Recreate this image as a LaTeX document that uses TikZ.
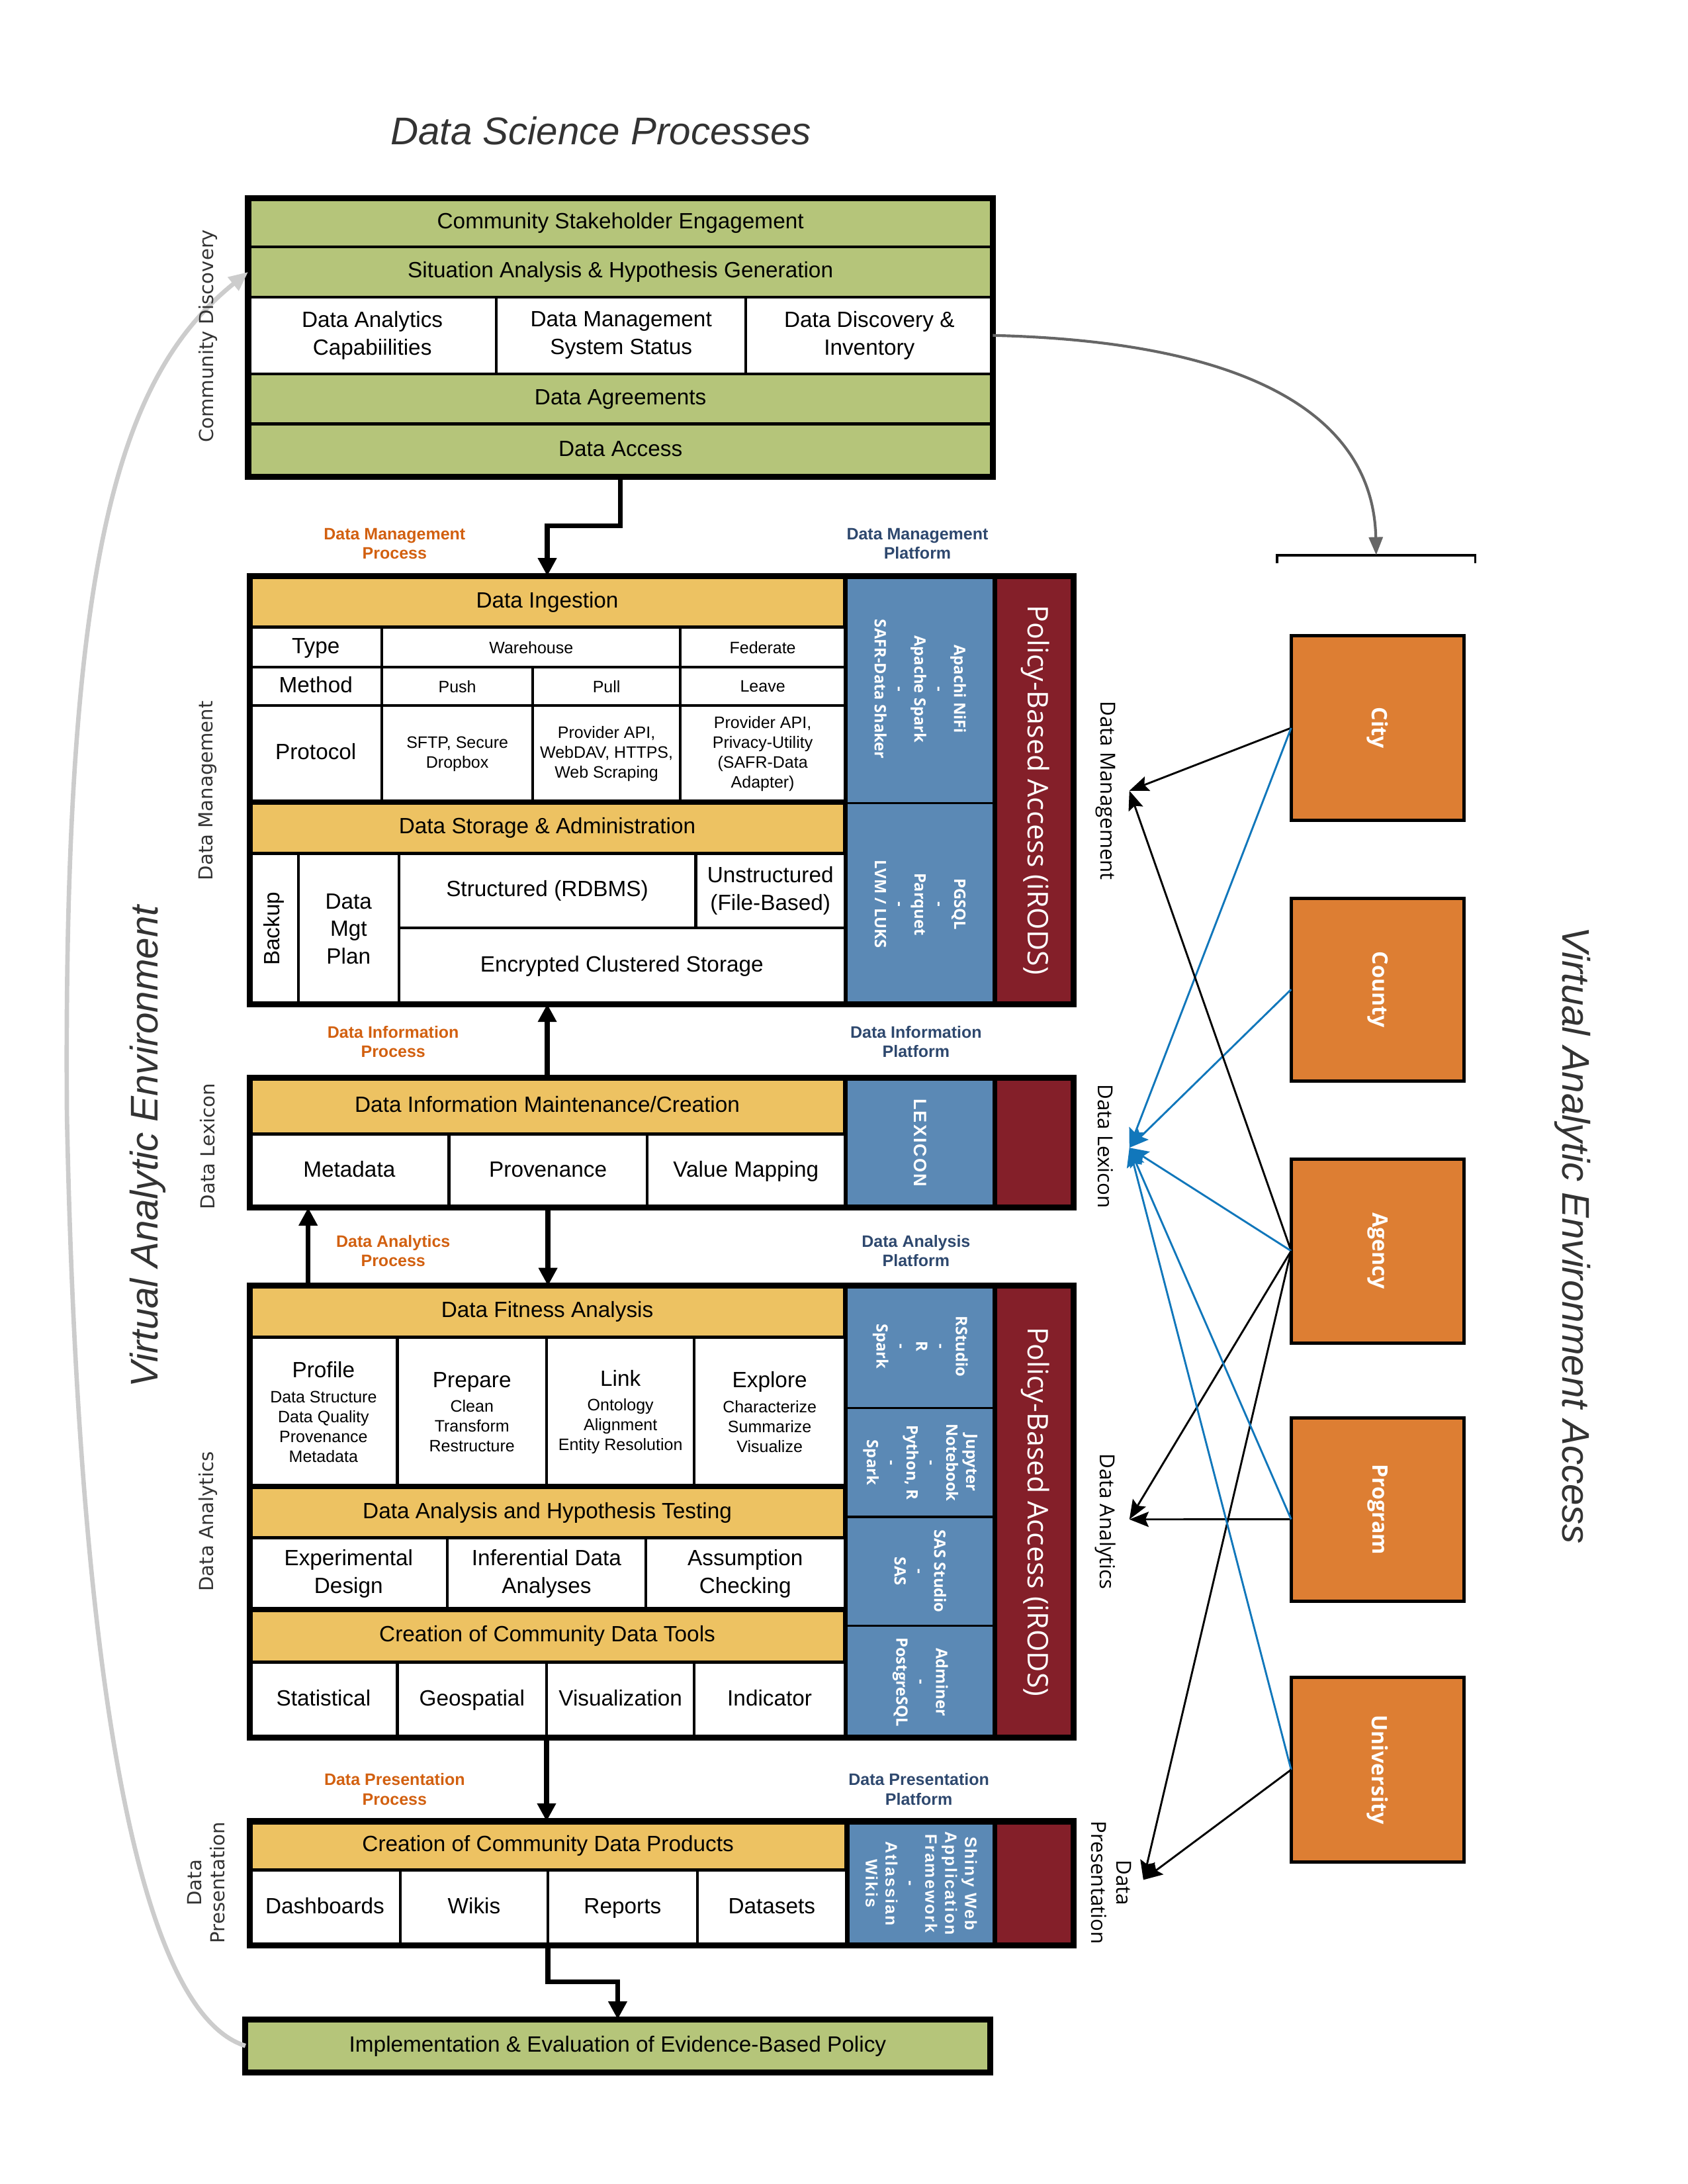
\documentclass[tikz,border=0pt]{standalone}
\usepackage{fontspec}
\setmainfont{Liberation Sans}
\newfontfamily\opensans{Open Sans}
\newfontfamily\dejavu{DejaVu Sans}
\newfontfamily\spacedsans[LetterSpace=8]{Liberation Sans}
\usetikzlibrary{arrows.meta, calc, positioning}
\definecolor{discgreen}{RGB}{181,197,122}
\definecolor{hdryellow}{RGB}{237,194,98}
\definecolor{platblue}{RGB}{91,137,181}
\definecolor{irodsred}{RGB}{132,31,41}
\definecolor{actororange}{RGB}{221,126,51}
\definecolor{procorange}{RGB}{210,96,16}
\definecolor{platnavy}{RGB}{46,72,110}
\definecolor{feedblue}{RGB}{17,119,187}
\definecolor{loopgray}{RGB}{204,204,204}
\definecolor{scangray}{RGB}{102,102,102}
\definecolor{labelgray}{RGB}{51,51,51}

\tikzset{
  spans/.style n args={4}{at={({(#1+#3)/2},{(#2+#4)/2})},
    minimum width={(#3-#1)*0.5057pt}, minimum height={(#4-#2)*0.5057pt}},
  box/.style={inner sep=0pt, outer sep=0pt},
  cell/.style={box, draw, line width=1pt, fill=white, align=center, font=\fontsize{8}{10}\selectfont},
  oneline/.style={text height=6pt, text depth=1.7pt},
  minor/.style={font=\fontsize{6}{7.2}\selectfont},
  discrow/.style={cell, oneline, fill=discgreen},
  hdr/.style={cell, oneline, fill=hdryellow, line width=1.4pt},
  plat/.style={box, fill=platblue},
  irods/.style={box, fill=irodsred},
  tool/.style={rotate=-90, text=white, align=center, font=\opensans\bfseries\fontsize{5.7}{7.2}\selectfont},
  irodslbl/.style={rotate=-90, text=white, font=\opensans\fontsize{10.3}{12}\selectfont},
  blockframe/.style={line width=2.2pt},
  sect/.style={line width=1.9pt},
  flow/.style={-{Triangle[length=6.5pt,width=6.5pt]}, line width=1.8pt},
  link/.style={-{Stealth[length=7pt,width=5.5pt,inset=1.2pt]}, line width=0.7pt},
  feed/.style={link, draw=feedblue, -{Stealth[length=7pt,width=5.5pt,inset=1.2pt,fill=feedblue]}},
  actor/.style={box, draw, line width=1.2pt, fill=actororange},
  actorlbl/.style={rotate=-90, text=white, font=\opensans\bfseries\fontsize{7.7}{9}\selectfont},
  proc/.style={font=\bfseries\fontsize{6}{7}\selectfont, text=procorange, align=center},
  platlbl/.style={proc, text=platnavy},
  lside/.style={rotate=90, align=center, text=labelgray, font=\dejavu\fontsize{7}{8.5}\selectfont},
  rside/.style={rotate=-90, align=center, font=\opensans\fontsize{7.5}{9}\selectfont},
  bigital/.style={text=labelgray, font=\itshape\fontsize{14}{17}\selectfont}
}

\begin{document}
\begin{tikzpicture}[x=0.5057pt, y=-0.5057pt]
  \useasboundingbox (0,0) rectangle (1210.2,1566.1);

  % Title
  \node[bigital] (title) at (431,94) {Data Science Processes};

  % Community discovery
  \node[discrow, spans={178}{142}{712}{177}] (cse) {Community Stakeholder Engagement};
  \node[discrow, spans={178}{177}{712}{213}] (sit) {Situation Analysis \& Hypothesis Generation};
  \node[cell, spans={178}{213}{356}{268}] (dac) {Data Analytics\\Capabiilities};
  \node[cell, spans={356}{213}{535}{268}] (dms) {Data Management\\System Status};
  \node[cell, spans={535}{213}{712}{268}] (ddi) {Data Discovery \&\\Inventory};
  \node[discrow, spans={178}{268}{712}{304}] (agree) {Data Agreements};
  \node[discrow, spans={178}{304}{712}{342}] (access) {Data Access};
  \draw[blockframe] (cse.north west) rectangle (access.south east);

  % Data management
  \fill (179,413) rectangle (770,720);
  \node[hdr, spans={179}{413}{606}{450}] (ingest) {Data Ingestion};
  \node[cell, oneline, spans={179}{450}{274}{478.5}] (typel) {Type};
  \node[cell, minor, spans={274}{450}{488}{478.5}] (wareh) {Warehouse};
  \node[cell, minor, spans={488}{450}{606}{478.5}] (fed) {Federate};
  \node[cell, oneline, spans={179}{478.5}{274}{506}] (methl) {Method};
  \node[cell, minor, spans={274}{478.5}{382}{506}] (push) {Push};
  \node[cell, minor, spans={382}{478.5}{488}{506}] (pull) {Pull};
  \node[cell, minor, spans={488}{478.5}{606}{506}] (leave) {Leave};
  \node[cell, oneline, spans={179}{506}{274}{575}] (protl) {Protocol};
  \node[cell, minor, spans={274}{506}{382}{575}] (sftp) {SFTP, Secure\\Dropbox};
  \node[cell, minor, spans={382}{506}{488}{575}] (papi) {Provider API,\\WebDAV, HTTPS,\\Web Scraping};
  \node[cell, minor, spans={488}{506}{606}{575}] (psafr) {Provider API,\\Privacy-Utility\\(SAFR-Data\\Adapter)};
  \node[hdr, spans={179}{575}{606}{612}] (stor) {Data Storage \& Administration};
  \node[cell, spans={179}{612}{214}{720}, label={[rotate=90, font=\fontsize{8}{10}\selectfont]center:Backup}] (backup) {};
  \node[cell, spans={214}{612}{286}{720}] (dmp) {Data\\Mgt\\Plan};
  \node[cell, oneline, spans={286}{612}{499}{665.5}] (struct) {Structured (RDBMS)};
  \node[cell, spans={499}{612}{606}{665.5}] (unstr) {Unstructured\\(File-Based)};
  \node[cell, oneline, spans={286}{665.5}{606}{720}] (encr) {Encrypted Clustered Storage};
  \draw[sect] (protl.south west) -- (psafr.south east);
  \node[plat, spans={608}{413}{712}{575.3}, label={[tool]center:{Apachi NiFi\\-\\Apache Spark\\-\\SAFR-Data Shaker}}] (mgtool) {};
  \node[plat, spans={608}{576.8}{712}{720}, label={[tool]center:{PGSQL\\-\\Parquet\\-\\LVM / LUKS}}] (stortool) {};
  \node[irods, spans={715}{413}{770}{720}, label={[irodslbl]center:Policy-Based Access (iRODS)}] (mgirods) {};
  \draw[blockframe] (ingest.north west) rectangle (mgirods.south east);

  % Data lexicon
  \fill (179,773) rectangle (770,866);
  \node[hdr, spans={179}{773}{606}{813.5}] (dimc) {Data Information Maintenance/Creation};
  \node[cell, oneline, spans={179}{813.5}{322}{866}] (meta) {Metadata};
  \node[cell, oneline, spans={322}{813.5}{464}{866}] (prov) {Provenance};
  \node[cell, oneline, spans={464}{813.5}{606}{866}] (vmap) {Value Mapping};
  \node[plat, spans={608}{773}{712}{866}, label={[rotate=-90, text=white, font=\spacedsans\bfseries\fontsize{6.5}{8}\selectfont]center:LEXICON}] (lextool) {};
  \node[irods, spans={715}{773}{770}{866}] (lexirods) {};
  \draw[blockframe] (dimc.north west) rectangle (lexirods.south east);

  % Data analytics
  \fill (179,922) rectangle (770,1246);
  \node[hdr, spans={179}{922}{606}{959}] (fitness) {Data Fitness Analysis};
  \node[cell, minor, spans={179}{959}{285}{1066}] (profile) {{\fontsize{8}{10}\selectfont Profile}\\[1.8pt]Data Structure\\Data Quality\\Provenance\\Metadata};
  \node[cell, minor, spans={285}{959}{392}{1066}] (prep) {{\fontsize{8}{10}\selectfont Prepare}\\[1.8pt]Clean\\Transform\\Restructure};
  \node[cell, minor, spans={392}{959}{498}{1066}] (linkc) {{\fontsize{8}{10}\selectfont Link}\\[1.8pt]Ontology\\Alignment\\Entity Resolution};
  \node[cell, minor, spans={498}{959}{606}{1066}] (expl) {{\fontsize{8}{10}\selectfont Explore}\\[1.8pt]Characterize\\Summarize\\Visualize};
  \node[hdr, spans={179}{1066}{606}{1103}] (hypo) {Data Analysis and Hypothesis Testing};
  \node[cell, spans={179}{1103}{321}{1154}] (expd) {Experimental\\Design};
  \node[cell, spans={321}{1103}{463}{1154}] (infer) {Inferential Data\\Analyses};
  \node[cell, spans={463}{1103}{606}{1154}] (assum) {Assumption\\Checking};
  \node[hdr, spans={179}{1154}{606}{1192}] (tools) {Creation of Community Data Tools};
  \node[cell, oneline, spans={179}{1192}{285}{1246}] (stat) {Statistical};
  \node[cell, oneline, spans={285}{1192}{392}{1246}] (geo) {Geospatial};
  \node[cell, oneline, spans={392}{1192}{498}{1246}] (vis) {Visualization};
  \node[cell, oneline, spans={498}{1192}{606}{1246}] (ind) {Indicator};
  \draw[sect] (profile.south west) -- (expl.south east);
  \draw[sect] (expd.south west) -- (assum.south east);
  \node[plat, spans={608}{922}{712}{1009}, label={[tool]center:{RStudio\\-\\R\\-\\Spark}}] (rtool) {};
  \node[plat, spans={608}{1010.5}{712}{1087}, label={[tool]center:{Jupyter\\Notebook\\-\\Python, R\\-\\Spark}}] (jtool) {};
  \node[plat, spans={608}{1088.5}{712}{1165}, label={[tool]center:{SAS Studio\\-\\SAS}}] (sastool) {};
  \node[plat, spans={608}{1166.5}{712}{1246}, label={[tool]center:{Adminer\\-\\PostgreSQL}}] (pgtool) {};
  \node[irods, spans={715}{922}{770}{1246}, label={[irodslbl]center:Policy-Based Access (iRODS)}] (anirods) {};
  \draw[blockframe] (fitness.north west) rectangle (anirods.south east);

  % Data presentation
  \fill (179,1306) rectangle (770,1395);
  \node[hdr, spans={179}{1306}{607}{1341}] (prodhdr) {Creation of Community Data Products};
  \node[cell, oneline, spans={179}{1341}{287}{1395}] (dash) {Dashboards};
  \node[cell, oneline, spans={287}{1341}{393}{1395}] (wikis) {Wikis};
  \node[cell, oneline, spans={393}{1341}{500}{1395}] (reports) {Reports};
  \node[cell, oneline, spans={500}{1341}{607}{1395}] (dsets) {Datasets};
  \node[plat, spans={609.5}{1306}{712}{1395}, label={[rotate=-90, text=white, align=center, font=\spacedsans\bfseries\fontsize{6}{7.2}\selectfont]center:{Shiny Web\\Application\\Framework\\-\\Atlassian\\Wikis}}] (shtool) {};
  \node[irods, spans={715}{1306}{770}{1395}] (prirods) {};
  \draw[blockframe] (prodhdr.north west) rectangle (prirods.south east);

  % Policy
  \node[discrow, spans={176}{1448}{710}{1486}] (policy) {Implementation \& Evaluation of Evidence-Based Policy};
  \draw[blockframe] (policy.north west) rectangle (policy.south east);

  % Process and platform labels
  \node[proc] (dmproc) at (283,390) {Data Management\\Process};
  \node[platlbl] (dmplat) at (658,390) {Data Management\\Platform};
  \node[proc] (diproc) at (282,747) {Data Information\\Process};
  \node[platlbl] (diplat) at (657,747) {Data Information\\Platform};
  \node[proc] (daproc) at (282,897) {Data Analytics\\Process};
  \node[platlbl] (daplat) at (657,897) {Data Analysis\\Platform};
  \node[proc] (dpproc) at (283,1283) {Data Presentation\\Process};
  \node[platlbl] (dpplat) at (659,1283) {Data Presentation\\Platform};

  % Flow between stages
  \draw[flow] (access.south) -- ++(0,35) -| (ingest.north);
  \draw[flow] (dimc.north) -- (dimc.north |- encr.south);
  \draw[flow] ($(fitness.north west)+(42,0)$) -- ($(meta.south west)+(42,0)$);
  \draw[flow] (prov.south) -- (prov.south |- fitness.north);
  \draw[flow] (vis.south west) -- (vis.south west |- prodhdr.north);
  \draw[flow] (reports.south west) -- ++(0,26) -| (policy.north);

  % Loop back to discovery
  \draw[loopgray, line width=1.6pt, -{Triangle[length=7pt,width=6pt]}] (policy.west) .. controls (90,1440) and (55,1150) .. (48,800) .. controls (45,400) and (85,270) .. (sit.west);

  % Side labels
  \node[lside] (lcd) at (149,241) {Community Discovery};
  \node[lside] (ldm) at (149,567) {Data Management};
  \node[lside] (ldl) at (149,822) {Data Lexicon};
  \node[lside] (lda) at (149,1091) {Data Analytics};
  \node[lside] (ldp) at (148,1350) {Data\\Presentation};
  \node[bigital, rotate=90] (vae) at (106,822) {Virtual Analytic Environment};
  \node[rside] (rdm) at (793,567) {Data Management};
  \node[rside] (rdl) at (793,822) {Data Lexicon};
  \node[rside] (rda) at (793,1091) {Data Analytics};
  \node[rside] (rdp) at (797,1350) {Data\\Presentation};
  \node[bigital, rotate=-90] (vaea) at (1128,886) {Virtual Analytic Environment Access};

  % Access bracket
  \coordinate (brk) at (987,398);
  \draw[line width=0.9pt] (916,404) -- (916,398) -- (1058,398) -- (1058,404);
  \draw[scangray, line width=1pt, -{Triangle[length=6.5pt,width=5pt]}] (ddi.east) .. controls (900,245) and (985,300) .. (brk);

  % Access groups
  \node[actor, spans={926}{456}{1050}{588}, label={[actorlbl]center:City}] (city) {};
  \node[actor, spans={926}{644}{1050}{775}, label={[actorlbl]center:County}] (county) {};
  \node[actor, spans={926}{831}{1050}{963}, label={[actorlbl]center:Agency}] (agency) {};
  \node[actor, spans={926}{1017}{1050}{1148}, label={[actorlbl]center:Program}] (program) {};
  \node[actor, spans={926}{1203}{1050}{1335}, label={[actorlbl]center:University}] (univ) {};

  \coordinate (dmin) at (810,567);
  \coordinate (dlin) at (810,823);
  \coordinate (dain) at (810,1089.5);
  \coordinate (dpin) at (820,1348);
  \coordinate (progout) at ([yshift=-3.5pt]program.west);

  \foreach \src/\dst/\kind in {city.west/dmin/link, city.west/dlin/feed, county.west/dlin/feed,
      agency.west/dmin/link, agency.west/dlin/feed, agency.west/dain/link, agency.west/dpin/link,
      progout/dain/link, progout/dlin/feed, univ.west/dlin/feed, univ.west/dpin/link} {
    \draw[\kind] (\src) -- (\dst);
  }
\end{tikzpicture}
\end{document}
